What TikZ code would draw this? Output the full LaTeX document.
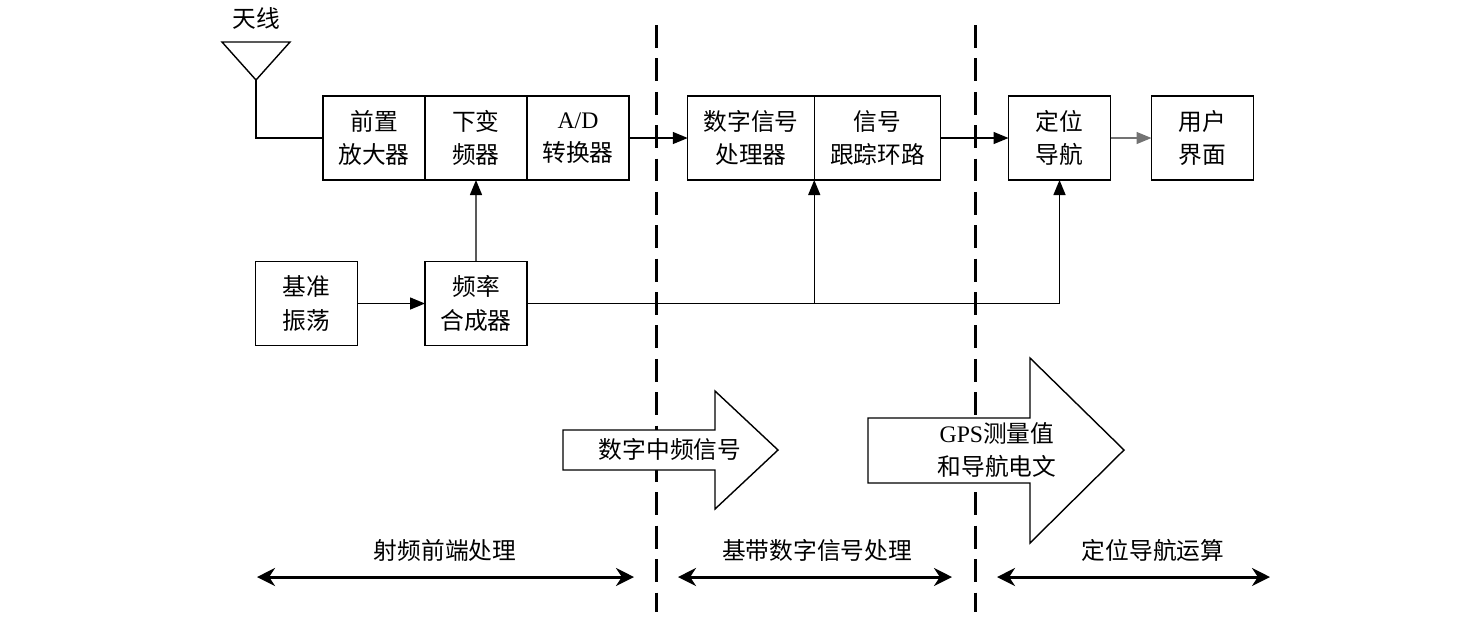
\documentclass[tikz,border=0pt]{standalone}
\usepackage{fontspec}
\setmainfont{Noto Sans CJK SC}
\newfontfamily\latin{Liberation Serif}
\usetikzlibrary{positioning,arrows.meta}

\begin{document}
\begin{tikzpicture}[
  x=0.02cm, y=-0.02cm,
  font=\fontsize{13.5}{19}\selectfont,
  blk/.style={draw, line width=0.8pt, align=center, outer sep=0pt,
              minimum height=16.8mm, inner sep=1pt},
  narrow/.style={blk, minimum width=20.4mm},
  wide/.style={blk, minimum width=25.3mm},
  sig/.style={-{Triangle[length=3mm,width=2.4mm]}, line width=0.8pt},
  zone/.style={{Stealth[length=3.6mm,width=3.6mm]}-{Stealth[length=3.6mm,width=3.6mm]},
               line width=1.7pt},
  border/.style={line width=1.7pt, dash pattern=on 13pt off 6pt},
  flow/.style={draw, line width=0.8pt, fill=white},
]
  \useasboundingbox (0,0) rectangle (1479,627);

  % antenna
  \node (antlbl) at (256,18) {天线};
  \draw[line width=0.8pt] (222,42) -- (290,42) -- (256,80) -- cycle;
  \coordinate (ant) at (256,80);

  % RF front end
  \node[narrow] (lna) at (374,138) {前置\\放大器};
  \node[narrow, right=0pt of lna] (mix) {下变\\频器};
  \node[narrow, right=0pt of mix] (adc) {{\latin A/D}\\转换器};
  \node[narrow] (osc) at (306.5,303.5) {基准\\振荡};
  \node[narrow] (syn) at (476,303.5) {频率\\合成器};

  % baseband and navigation
  \node[wide] (dsp) at (751,138) {数字信号\\处理器};
  \node[wide, right=0pt of dsp] (trk) {信号\\跟踪环路};
  \node[narrow] (nav) at (1059.5,138) {定位\\导航};
  \node[narrow, right=8.2mm of nav] (ui) {用户\\界面};

  \draw[line width=0.8pt] (ant) |- (lna.west);
  \draw[sig] (adc) -- (dsp);
  \draw[sig] (trk) -- (nav);
  \draw[sig, black!55] (nav) -- (ui);
  \draw[sig] (osc) -- (syn);
  \draw[sig] (syn) -- (mix);
  \draw[sig] (syn.east) -| (nav.south);
  \draw[sig] (dsp.south east |- syn.east) -- (dsp.south east);

  % stage borders
  \draw[border] (656,25) -- (656,612);
  \draw[border] (975,25) -- (975,612);

  % data flow between stages
  \draw[flow] (563,430) -- (715,430) -- (715,391) -- (778,450) -- (715,509)
    -- (715,470) -- (563,470) -- cycle;
  \draw[flow] (868,418) -- (1030,418) -- (1030,358) -- (1124,450)
    -- (1030,543) -- (1030,483) -- (868,483) -- cycle;
  \node (ifsig) at (670,449) {数字中频信号};
  \node[align=center] (meas) at (997,450) {{\latin GPS}测量值\\和导航电文};

  % stages
  \coordinate (rfL) at (257,577);  \coordinate (rfR) at (634,577);
  \coordinate (bbL) at (678,577);  \coordinate (bbR) at (952,577);
  \coordinate (pvL) at (997,577);  \coordinate (pvR) at (1270,577);
  \draw[zone] (rfL) -- (rfR);
  \draw[zone] (bbL) -- (bbR);
  \draw[zone] (pvL) -- (pvR);
  \node (rflbl) at (445,550) {射频前端处理};
  \node (bblbl) at (817,550) {基带数字信号处理};
  \node (pvlbl) at (1153,550) {定位导航运算};
\end{tikzpicture}
\end{document}
